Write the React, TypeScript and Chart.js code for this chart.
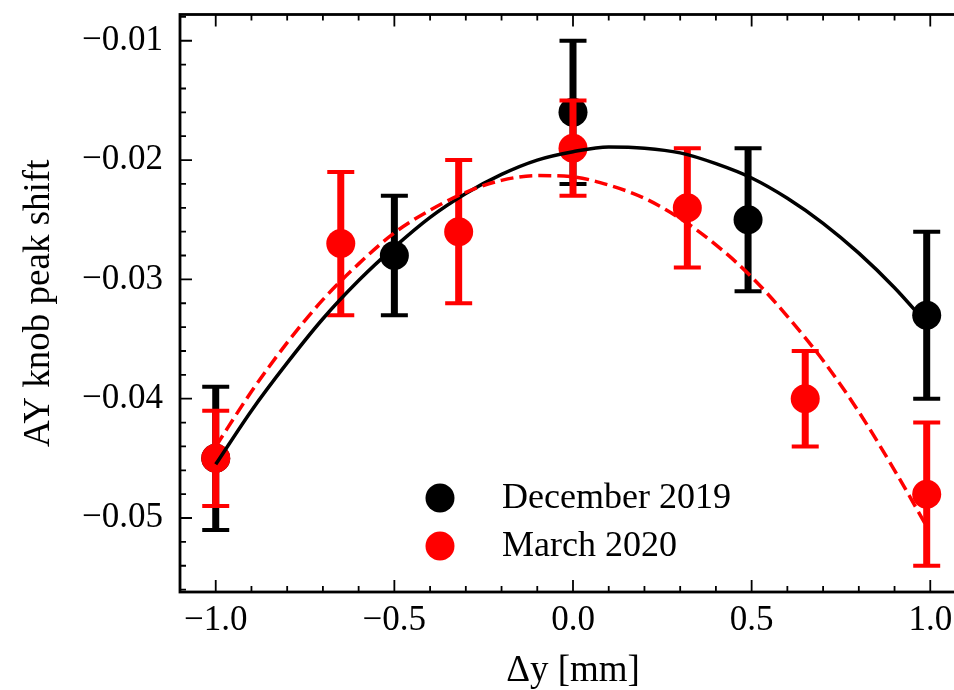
import { useEffect, useRef } from "react"
import { Chart, registerables, type Plugin } from "chart.js"

Chart.register(...registerables)

// measured points (December 2019)
const decX = [-1.0, -0.5, 0.0, 0.49, 0.99]
const decY = [-0.045, -0.028, -0.016, -0.025, -0.033]
const decErr = [0.006, 0.005, 0.006, 0.006, 0.007]

// measured points (March 2020)
const marX = [-1.0, -0.65, -0.32, 0.0, 0.32, 0.65, 0.99]
const marY = [-0.045, -0.027, -0.026, -0.019, -0.024, -0.04, -0.048]
const marErr = [0.004, 0.006, 0.006, 0.004, 0.005, 0.004, 0.006]

// fitted curves
const fitX = [-1.0, -0.9, -0.8, -0.7, -0.6, -0.5, -0.4, -0.3, -0.2, -0.1, 0.0, 0.1, 0.2, 0.3, 0.4, 0.5, 0.6, 0.7, 0.8, 0.9, 0.99]
const decFit = [-0.0455, -0.041, -0.037, -0.0333, -0.0301, -0.0273, -0.0248, -0.0228, -0.0212, -0.02, -0.0193, -0.0189, -0.019, -0.0194, -0.0203, -0.0215, -0.0232, -0.0253, -0.0278, -0.0307, -0.0337]
const marFit = [-0.044, -0.0394, -0.0353, -0.0317, -0.0287, -0.0261, -0.0242, -0.0227, -0.0217, -0.0213, -0.0214, -0.0221, -0.0232, -0.0249, -0.0271, -0.0298, -0.0331, -0.0368, -0.0411, -0.046, -0.0507]

const xTicks = [-1.0, -0.5, 0.0, 0.5, 1.0]
const yTicks = [-0.05, -0.04, -0.03, -0.02, -0.01]

const FONT = "'Liberation Serif', 'Times New Roman', serif"
const fmt = (v: number, d: number) => v.toFixed(d).replace("-", "\u2212")

const errorBars: Plugin = {
  id: "errorBars",
  beforeDatasetDraw(chart, args) {
    const ds: any = chart.data.datasets[args.index]
    if (!ds.errors) return
    const { ctx } = chart
    const x = chart.scales.x
    const y = chart.scales.y
    ctx.save()
    ctx.strokeStyle = ds.backgroundColor
    ds.data.forEach((p: { x: number; y: number }, i: number) => {
      const px = x.getPixelForValue(p.x)
      const top = y.getPixelForValue(p.y + ds.errors[i])
      const bot = y.getPixelForValue(p.y - ds.errors[i])
      ctx.lineWidth = 7
      ctx.beginPath()
      ctx.moveTo(px, top)
      ctx.lineTo(px, bot)
      ctx.stroke()
      ctx.lineWidth = 4
      ctx.beginPath()
      ctx.moveTo(px - 13.5, top)
      ctx.lineTo(px + 13.5, top)
      ctx.moveTo(px - 13.5, bot)
      ctx.lineTo(px + 13.5, bot)
      ctx.stroke()
    })
    ctx.restore()
  },
}

const frame: Plugin = {
  id: "frame",
  afterDatasetsDraw(chart) {
    const { ctx, chartArea: a } = chart
    const x = chart.scales.x
    const y = chart.scales.y
    ctx.save()
    ctx.strokeStyle = "#000"
    ctx.lineWidth = 1.8
    ctx.beginPath()
    for (let i = -11; i <= 11; i++) {
      const px = x.getPixelForValue(i / 10)
      const len = i % 5 === 0 ? 12 : 6
      ctx.moveTo(px, a.bottom)
      ctx.lineTo(px, a.bottom - len)
      ctx.moveTo(px, a.top)
      ctx.lineTo(px, a.top + len)
    }
    for (let i = -28; i <= -4; i++) {
      const py = y.getPixelForValue(i * 0.002)
      const len = i % 5 === 0 ? 12 : 6
      ctx.moveTo(a.left, py)
      ctx.lineTo(a.left + len, py)
      ctx.moveTo(a.right, py)
      ctx.lineTo(a.right - len, py)
    }
    ctx.stroke()
    ctx.lineWidth = 2.8
    ctx.strokeRect(a.left, a.top, a.right - a.left, a.bottom - a.top)
    ctx.restore()
  },
}

const legendBox: Plugin = {
  id: "legendBox",
  afterDraw(chart) {
    const { ctx } = chart
    const items = chart.data.datasets.filter((d: any) => d.errors)
    ctx.save()
    ctx.font = `36px ${FONT}`
    ctx.textBaseline = "alphabetic"
    ctx.textAlign = "left"
    items.forEach((d: any, i: number) => {
      const cy = 498 + i * 48
      ctx.fillStyle = d.backgroundColor
      ctx.beginPath()
      ctx.arc(440, cy, 14.5, 0, Math.PI * 2)
      ctx.fill()
      ctx.fillStyle = "#000"
      ctx.fillText(d.label, 502, cy + 10)
    })
    ctx.restore()
  },
}

export default function App() {
  const canvasRef = useRef<HTMLCanvasElement>(null)

  useEffect(() => {
    if (!canvasRef.current) return
    const tickFont = { family: FONT, size: 35, lineHeight: 1.2 }
    const titleFont = { family: FONT, size: 37, lineHeight: 1 }

    const chart = new Chart(canvasRef.current, {
      type: "scatter",
      data: {
        datasets: [
          {
            label: "December 2019",
            data: decX.map((x, i) => ({ x, y: decY[i] })),
            errors: decErr,
            backgroundColor: "#000000",
            pointBackgroundColor: "#000000",
            pointBorderWidth: 0,
            pointRadius: 14.5,
            order: 4,
          } as any,
          {
            label: "March 2020",
            data: marX.map((x, i) => ({ x, y: marY[i] })),
            errors: marErr,
            backgroundColor: "#ff0000",
            pointBackgroundColor: "#ff0000",
            pointBorderWidth: 0,
            pointRadius: 14.5,
            order: 3,
          } as any,
          {
            label: "December fit",
            data: fitX.map((x, i) => ({ x, y: decFit[i] })),
            showLine: true,
            borderColor: "#000000",
            borderWidth: 3.5,
            pointRadius: 0,
            cubicInterpolationMode: "monotone",
            order: 2,
          },
          {
            label: "March fit",
            data: fitX.map((x, i) => ({ x, y: marFit[i] })),
            showLine: true,
            borderColor: "#ff0000",
            borderWidth: 3.5,
            borderDash: [13, 6],
            pointRadius: 0,
            cubicInterpolationMode: "monotone",
            order: 1,
          },
        ],
      },
      options: {
        responsive: true,
        maintainAspectRatio: false,
        animation: false,
        layout: { padding: { top: 13, right: 34, left: 0, bottom: 0 } },
        plugins: {
          legend: { display: false },
          tooltip: { enabled: false },
        },
        scales: {
          x: {
            type: "linear",
            min: -1.1,
            max: 1.1,
            afterBuildTicks: (s) => {
              s.ticks = xTicks.map((v) => ({ value: v }))
            },
            afterFit: (s: any) => {
              s.height = 98
              s.paddingLeft = 0
              s.paddingRight = 0
            },
            grid: { display: false, drawTicks: false, tickLength: 0 },
            border: { display: false },
            ticks: {
              color: "#000",
              font: tickFont,
              padding: 8,
              maxRotation: 0,
              autoSkip: false,
              callback: (v) => fmt(Number(v), 1),
            },
            title: {
              display: true,
              text: "Δy [mm]",
              color: "#000",
              font: titleFont,
              padding: { top: 0, bottom: 0 },
            },
          },
          y: {
            type: "linear",
            min: -0.0562,
            max: -0.0078,
            afterBuildTicks: (s) => {
              s.ticks = yTicks.map((v) => ({ value: v }))
            },
            afterFit: (s: any) => {
              s.width = 180
              s.paddingTop = 0
              s.paddingBottom = 0
            },
            grid: { display: false, drawTicks: false, tickLength: 0 },
            border: { display: false },
            ticks: {
              color: "#000",
              font: tickFont,
              padding: 17,
              autoSkip: false,
              callback: (v) => fmt(Number(v), 2),
            },
            title: {
              display: true,
              text: "AY knob peak shift",
              color: "#000",
              font: titleFont,
              padding: { top: 21, bottom: 0 },
            },
          },
        },
      },
      plugins: [errorBars, frame, legendBox],
    })

    return () => {
      chart.destroy()
    }
  }, [])

  return (
    <div style={{ position: "fixed", left: 0, top: 0, width: 954, height: 690, overflow: "hidden", background: "#fff" }}>
      <div style={{ position: "relative", width: 1000, height: 690 }}>
        <canvas ref={canvasRef} />
      </div>
    </div>
  )
}
